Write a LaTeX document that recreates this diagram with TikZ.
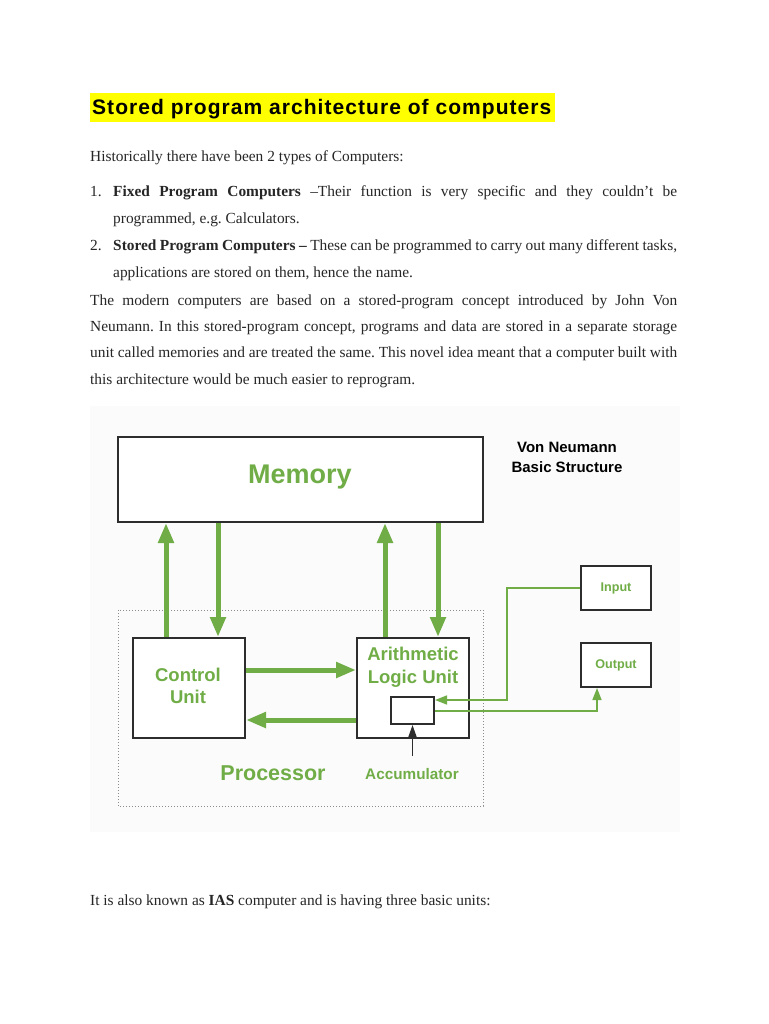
\documentclass[tikz,border=0pt]{standalone}
\usepackage{fontspec}
\setmainfont{Liberation Serif}
\setsansfont{Liberation Sans}
\usetikzlibrary{arrows.meta}
\definecolor{grn}{RGB}{112,173,71}
\definecolor{txt}{RGB}{38,38,38}
\definecolor{boxline}{RGB}{45,45,45}
\definecolor{hl}{RGB}{255,255,0}
\definecolor{panel}{RGB}{251,251,251}
\definecolor{dotgray}{RGB}{140,140,140}
\begin{document}
\frenchspacing
\begin{tikzpicture}[x=1pt,y=-1pt,
  body/.style={anchor=base west,inner sep=0pt,text=txt,font=\fontsize{15.4}{18}\selectfont\frenchspacing},
  blk/.style={draw=boxline,line width=2pt,fill=white,inner sep=0pt},
  glab/.style={text=grn,align=center,inner sep=0pt},
  bigarrow/.style={draw=grn,line width=5pt,-{Triangle[length=20pt,width=15pt]}},
  thinarrow/.style={draw=grn,line width=1.6pt,-{Triangle[length=12pt,width=9pt]}},
  blackarrow/.style={draw=boxline,line width=1.6pt,-{Triangle[length=12pt,width=8pt]}}
]
\useasboundingbox (0,0) rectangle (768,1024);
\fill[white] (0,0) rectangle (768,1024);

% title
\fill[hl] (90,93) rectangle (555,122);
\node[anchor=base west,inner sep=0pt,font=\sffamily\bfseries\fontsize{21}{24}\selectfont\addfontfeature{LetterSpace=5}] (title) at (92,115) {Stored program architecture of computers};

% body text
\node[body] (t0) at (90,162) {Historically there have been 2 types of Computers:};
\node[body] (n1) at (90,197) {1.};
\node[body] (t1) at (113,197) {\makebox[564pt][s]{\textbf{Fixed Program Computers} –Their function is very specific and they couldn’t be}};
\node[body] (t2) at (113,224) {programmed, e.g. Calculators.};
\node[body] (n2) at (90,251) {2.};
\node[body] (t3) at (113,251) {\makebox[564pt][s]{\textbf{Stored Program Computers –} These can be programmed to carry out many different tasks,}};
\node[body] (t4) at (113,277) {applications are stored on them, hence the name.};
\node[body] (t5) at (90,305) {\makebox[587pt][s]{The modern computers are based on a stored-program concept introduced by John Von}};
\node[body] (t6) at (90,331) {\makebox[587pt][s]{Neumann. In this stored-program concept, programs and data are stored in a separate storage}};
\node[body] (t7) at (90,357) {\makebox[587pt][s]{unit called memories and are treated the same. This novel idea meant that a computer built with}};
\node[body] (t8) at (90,384) {this architecture would be much easier to reprogram.};
\node[body] (t9) at (90,905) {It is also known as \textbf{IAS} computer and is having three basic units:};

% diagram panel
\fill[panel] (90,406) rectangle (680,832);
\draw[dotgray,line width=1pt,dotted] (118,610) rectangle (483,806);

% boxes
\node[blk,minimum width=365pt,minimum height=85pt] (mem) at (300.5,479.5) {};
\node[glab,font=\sffamily\bfseries\fontsize{27}{30}\selectfont] (memlab) at (300,477) {Memory};
\node[align=center,inner sep=0pt,font=\sffamily\bfseries\fontsize{15}{20}\selectfont] (vn) at (567,457) {Von Neumann\\Basic Structure};

\node[blk,minimum width=112pt,minimum height=100pt] (cu) at (189,688) {};
\node[glab,font=\sffamily\bfseries\fontsize{18.5}{22.5}\selectfont] (culab) at (188,686) {Control\\Unit};
\node[blk,minimum width=112pt,minimum height=100pt] (alu) at (413,688) {};
\node[glab,font=\sffamily\bfseries\fontsize{18.5}{22.5}\selectfont] (alulab) at (413,667) {Arithmetic\\Logic Unit};
\node[blk,minimum width=43pt,minimum height=27pt] (acc) at (412.5,710.5) {};

\node[blk,minimum width=70pt,minimum height=44pt] (inp) at (616,588) {};
\node[glab,font=\sffamily\bfseries\fontsize{12.6}{15}\selectfont] (inplab) at (616,588) {Input};
\node[blk,minimum width=70pt,minimum height=44pt] (outp) at (616,665) {};
\node[glab,font=\sffamily\bfseries\fontsize{12.6}{15}\selectfont] (outlab) at (616,665) {Output};

\node[glab,font=\sffamily\bfseries\fontsize{21.5}{24}\selectfont] (proc) at (273,773) {Processor};
\node[glab,font=\sffamily\bfseries\fontsize{15.3}{18}\selectfont] (acclab) at (412,774) {Accumulator};

% coordinates
\coordinate (u1) at (166,0);
\coordinate (d1) at (218,0);
\coordinate (u2) at (385,0);
\coordinate (d2) at (438,0);
\coordinate (h1) at (0,670);
\coordinate (h2) at (0,720);
\coordinate (ix) at (507,0);
\coordinate (iy) at (0,700);
\coordinate (ox) at (597,0);
\coordinate (oy) at (0,711);
\coordinate (ab) at (412.5,756);

% thick arrows
\draw[bigarrow] (u1 |- cu.north) -- (u1 |- mem.south);
\draw[bigarrow] (d1 |- mem.south) -- (d1 |- cu.north);
\draw[bigarrow] (u2 |- alu.north) -- (u2 |- mem.south);
\draw[bigarrow] (d2 |- mem.south) -- (d2 |- alu.north);
\draw[bigarrow] (cu.east |- h1) -- (alu.west |- h1);
\draw[bigarrow] (alu.west |- h2) -- (cu.east |- h2);

% thin connectors
\draw[thinarrow] (inp.west) -- (ix |- inp.west) -- (ix |- iy) -- (acc.east |- iy);
\draw[thinarrow] (acc.east |- oy) -- (ox |- oy) -- (ox |- outp.south);
\draw[blackarrow] (ab) -- (acc.south);
\end{tikzpicture}
\end{document}
